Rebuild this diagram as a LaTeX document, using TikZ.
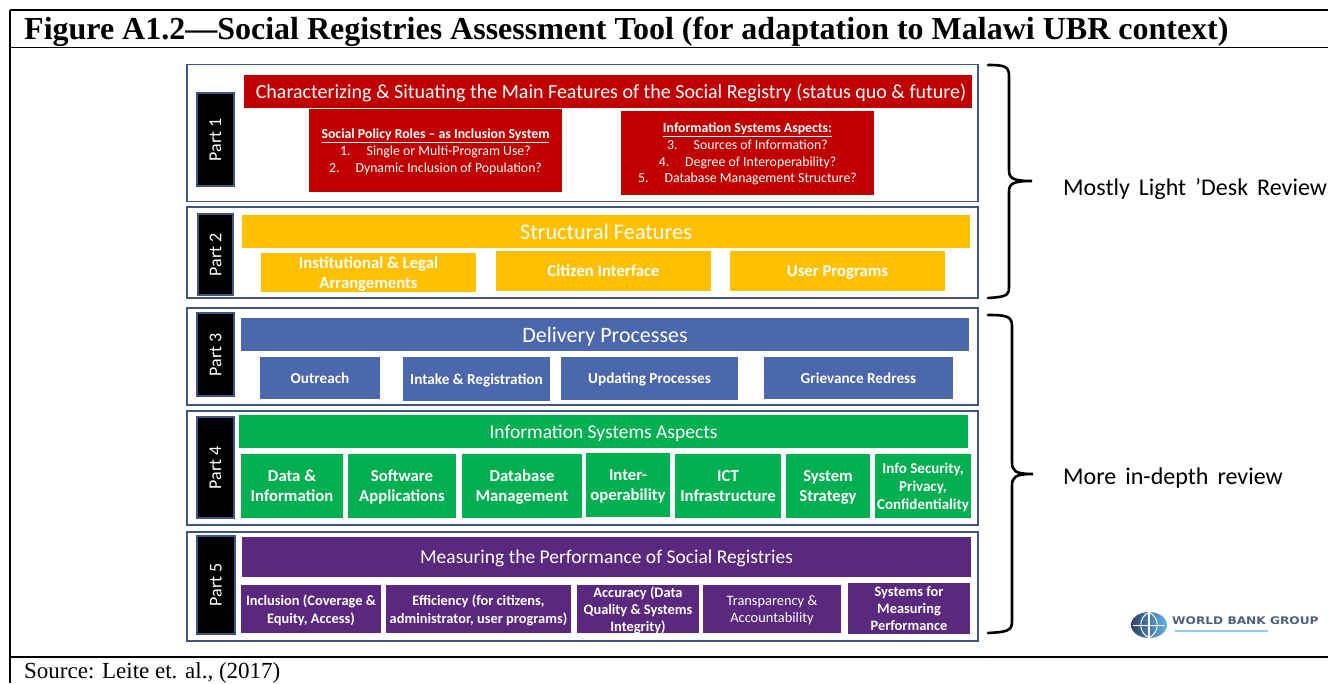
\documentclass[tikz,border=0pt]{standalone}
\usepackage{fontspec}
\setmainfont{Carlito}
\newfontfamily\timesfont{Liberation Serif}
\newfontfamily\logofont{DejaVu Sans}
\newcommand{\widespaces}{\spaceskip 9pt\relax}
\definecolor{framenavy}{HTML}{3F5587}
\definecolor{regred}{HTML}{C00000}
\definecolor{regyellow}{HTML}{FFC000}
\definecolor{regblue}{HTML}{4B67AE}
\definecolor{reggreen}{HTML}{00B050}
\definecolor{regpurple}{HTML}{5A287E}
\definecolor{logonavy}{HTML}{2F4468}
\definecolor{logosky}{HTML}{5FB4E8}
\tikzset{
  partframe/.style={draw=framenavy, line width=1.8pt, anchor=north west, inner sep=0pt, outer sep=0pt},
  partbox/.style={fill=black, draw=framenavy, line width=1.5pt, text=white, inner sep=0pt, outer sep=0pt, rotate=90, font=\fontsize{18}{21}\selectfont},
  band/.style={fill=#1, text=white, anchor=north west, inner sep=0pt, outer sep=0pt, text depth=-2pt, font=\fontsize{19.5}{25}\selectfont},
  item/.style={fill=#1, text=white, anchor=north west, inner sep=0pt, outer sep=0pt, align=center, text depth=-2pt, font=\fontsize{16.7}{20}\selectfont\bfseries},
  blueitem/.style={item=regblue, font=\fontsize{15.2}{18}\selectfont\bfseries},
  greenitem/.style={item=reggreen, text depth=-4pt},
  purpleitem/.style={item=regpurple, font=\fontsize{14.4}{17.3}\selectfont\bfseries},
  reditem/.style={item=regred, text depth=-4pt, font=\fontsize{13.8}{16.7}\selectfont},
  brace/.style={draw=black, line width=2.6pt, line cap=round},
  rule/.style={draw=black, line width=2pt},
  sidelabel/.style={anchor=west, inner sep=0pt, font=\fontsize{24}{28}\selectfont\widespaces}
}
\begin{document}
\begin{tikzpicture}[x=1pt,y=-1pt]
\useasboundingbox (0,0) rectangle (1328,683);
\coordinate (topleft) at (10,10);
\coordinate (topright) at (1328,10);
\coordinate (headleft) at (10,47.5);
\coordinate (headright) at (1328,47.5);
\coordinate (footleft) at (10,657);
\coordinate (footright) at (1328,657);
\coordinate (bottomleft) at (10,683);
\draw[rule] (topleft) -- (topright);
\draw[rule, line width=1.6pt] (headleft) -- (headright);
\draw[rule] (footleft) -- (footright);
\draw[rule] (topleft) -- (bottomleft);
\node[anchor=west, inner sep=0pt, font=\timesfont\bfseries\fontsize{32}{36}\selectfont] (title) at (24,32) {Figure A1.2—Social Registries Assessment Tool (for adaptation to Malawi UBR context)};
\node[anchor=west, inner sep=0pt, font=\timesfont\fontsize{23}{27}\selectfont] (source) at (24,672.5) {Source: Leite et. al., (2017)};

\node[partframe, minimum width=791pt, minimum height=137pt] (frameone) at (187,64.5) {};
\node[partframe, minimum width=791pt, minimum height=91pt] (frametwo) at (187,207) {};
\node[partframe, minimum width=791pt, minimum height=97pt] (framethree) at (187,308) {};
\node[partframe, minimum width=791pt, minimum height=114pt] (framefour) at (187,411) {};
\node[partframe, minimum width=791pt, minimum height=109pt] (framefive) at (187,532) {};

\node[partbox, minimum width=93pt, minimum height=37pt] (partone) at (215.5,139.5) {Part 1};
\node[partbox, minimum width=81pt, minimum height=35pt] (parttwo) at (215.5,254.5) {Part 2};
\node[partbox, minimum width=83pt, minimum height=37pt] (partthree) at (215.5,354.5) {Part 3};
\node[partbox, minimum width=101pt, minimum height=37pt] (partfour) at (215.5,467.5) {Part 4};
\node[partbox, minimum width=98pt, minimum height=38pt] (partfive) at (216,585) {Part 5};

\node[band=regred, minimum width=728pt, minimum height=33pt, font=\fontsize{20}{25}\selectfont] (chartitle) at (244,75) {\hspace*{6pt}Characterizing \& Situating the Main Features of the Social Registry (status quo \& future)};
\node[reditem, minimum width=253pt, minimum height=83pt] (policy) at (309,109) {{\bfseries\underline{Social Policy Roles -- as Inclusion System}}\\1.\hspace{16pt}Single or Multi-Program Use?\\2.\hspace{16pt}Dynamic Inclusion of Population?};
\node[reditem, minimum width=253pt, minimum height=84pt] (infoaspects) at (621,111) {{\bfseries\underline{Information Systems Aspects:}}\\3.\hspace{16pt}Sources of Information?\\4.\hspace{16pt}Degree of Interoperability?\\5.\hspace{16pt}Database Management Structure?};

\node[band=regyellow, minimum width=728pt, minimum height=33pt, font=\fontsize{22.3}{25}\selectfont] (structtitle) at (242,215) {Structural Features};
\node[item=regyellow, minimum width=215pt, minimum height=39pt, text depth=0pt] (institutional) at (261,253) {Institutional \& Legal\\Arrangements};
\node[item=regyellow, minimum width=215pt, minimum height=40pt] (citizen) at (496,251) {Citizen Interface};
\node[item=regyellow, minimum width=215pt, minimum height=40pt] (userprog) at (730,251) {User Programs};

\node[band=regblue, minimum width=728pt, minimum height=33pt, font=\fontsize{22}{25}\selectfont] (deliverytitle) at (241,318) {Delivery Processes};
\node[blueitem, minimum width=120pt, minimum height=42pt] (outreach) at (260,357) {Outreach};
\node[blueitem, minimum width=147pt, minimum height=44pt] (intake) at (403,357) {Intake \& Registration};
\node[blueitem, minimum width=177pt, minimum height=43pt] (updating) at (561,357) {Updating Processes};
\node[blueitem, minimum width=189pt, minimum height=42pt] (grievance) at (764,357) {Grievance Redress};

\node[band=reggreen, minimum width=729pt, minimum height=33pt] (infotitle) at (239,415) {Information Systems Aspects};
\node[greenitem, minimum width=102pt, minimum height=64pt] (data) at (241,454) {Data \&\\Information};
\node[greenitem, minimum width=108pt, minimum height=64pt] (software) at (348,454) {Software\\Applications};
\node[greenitem, minimum width=120pt, minimum height=64pt] (database) at (462,454) {Database\\Management};
\node[greenitem, minimum width=84pt, minimum height=64pt] (interop) at (586,453) {Inter-\\operability};
\node[greenitem, minimum width=106pt, minimum height=64pt] (ict) at (675,454) {ICT\\Infrastructure};
\node[greenitem, minimum width=84pt, minimum height=64pt] (strategy) at (786,454) {System\\Strategy};
\node[greenitem, minimum width=96pt, minimum height=64pt, font=\fontsize{15}{18}\selectfont\bfseries] (security) at (875,454) {Info Security,\\Privacy,\\Confidentiality};

\node[band=regpurple, minimum width=729pt, minimum height=40pt] (perftitle) at (242,537) {Measuring the Performance of Social Registries};
\node[purpleitem, minimum width=140pt, minimum height=48pt] (inclusion) at (241,585) {Inclusion (Coverage \&\\Equity, Access)};
\node[purpleitem, minimum width=185pt, minimum height=48pt] (efficiency) at (386,585) {Efficiency (for citizens,\\administrator, user programs)};
\node[purpleitem, minimum width=122pt, minimum height=48pt] (accuracy) at (577,585) {Accuracy (Data\\Quality \& Systems\\Integrity)};
\node[purpleitem, minimum width=138pt, minimum height=48pt, font=\fontsize{14.4}{17.3}\selectfont] (transparency) at (703,585) {Transparency \&\\Accountability};
\node[purpleitem, minimum width=122pt, minimum height=51pt] (measuring) at (848,583) {Systems for\\Measuring\\Performance};

\draw[brace] (988,65) .. controls (1004,65) and (1009,66) .. (1009,76) -- (1009,170) .. controls (1009,178) and (1012,181) .. (1032,181) .. controls (1012,181) and (1009,184) .. (1009,192) -- (1009,288) .. controls (1009,296) and (1004,297) .. (988,298);
\draw[brace] (988,315) .. controls (1006,315) and (1012,316) .. (1012,326) -- (1012,462) .. controls (1012,471) and (1015,474) .. (1033,474) .. controls (1015,474) and (1012,477) .. (1012,486) -- (1012,622) .. controls (1012,631) and (1006,632) .. (988,633);
\node[sidelabel] (lightreview) at (1063,189) {Mostly Light 'Desk Review};
\node[sidelabel] (deepreview) at (1063,478) {More in-depth review};

\shade[left color=logonavy, right color=logosky] (1149,625) ellipse (18 and 13);
\draw[white, line width=1.2pt] (1149,612) -- (1149,638);
\draw[white, line width=1pt] (1149,612) .. controls (1138,618) and (1138,632) .. (1149,638);
\draw[white, line width=1pt] (1149,612) .. controls (1160,618) and (1160,632) .. (1149,638);
\draw[white, line width=1pt] (1133,625) -- (1165,625);
\node[anchor=west, inner sep=0pt, text=logonavy!85, xscale=1.16, transform shape, font=\logofont\bfseries\fontsize{10.5}{12}\selectfont] (logotext) at (1172,621) {WORLD BANK GROUP};
\draw[logosky!70, line width=1.5pt] (1175,631) -- (1268,631);
\end{tikzpicture}
\end{document}
